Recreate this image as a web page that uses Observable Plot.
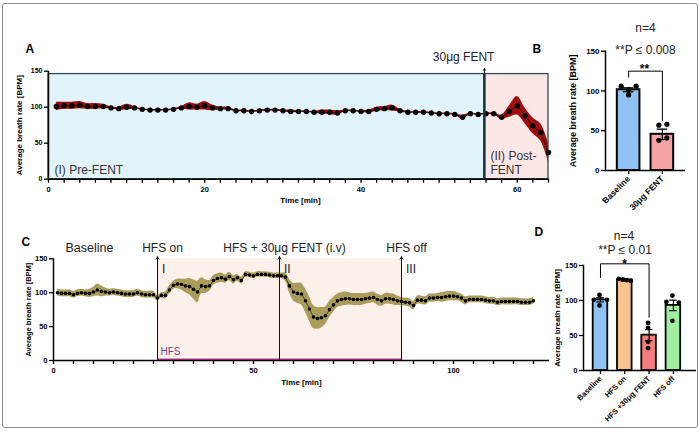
<!DOCTYPE html>
<html>
<head>
<meta charset="utf-8">
<script src="https://cdn.jsdelivr.net/npm/d3@7"></script>
<script src="https://cdn.jsdelivr.net/npm/@observablehq/plot@0.6"></script>
<style>
  html, body { margin: 0; padding: 0; background: #fff; }
  #fig { position: relative; width: 700px; height: 435px; overflow: hidden; background: #fff; }
  #fig svg { position: absolute; left: 0; top: 0; }
  #border { position: absolute; left: 2px; top: 3px; width: 694px; height: 423px; border: 1px solid #8c8c8c; border-radius: 3px; }
</style>
</head>
<body>
<div id="fig"><div id="border"></div></div>
<script>
// ---------- Panel A: breath rate before / after fentanyl ----------
const timeA = [1,2,3,4,5,6,7,8,9,10,11,12,13,14,15,16,17,18,19,20,21,22,23,24,25,26,27,28,29,30,
  31,32,33,34,35,36,37,38,39,40,41,42,43,44,45,46,47,48,49,50,51,52,53,54,55,56,57,58,59,60,61,62,63,64];
const rateA = [101,102,102,103,101,101,101,99,98,100, 99,97,96,96,96,97,99,101,100,102,
  99,98,98,95,95,94,95,96,96,95, 94,94,94,93,93,93,92,95,95,94,
  94,97,98,99,95,93,93,93,92,91, 91,90,86,91,90,91,91,86,94,102, 88,74,65,37];
const semA = [6,5,5,5,4,4,3,1.5,2,4, 2,1,1,1,1,1,2,5,4,6, 4,2,2,1,1,1,1,1,1,1,
  2,1,1,1,3,3,3,1,1,1, 2,3,3,4,2,1,1,1,1,1, 1,1,3,1,1,1,1,3,8,13, 11,11,12,13];
const phaseStartA = [0, 55.8];
const phaseEndA = [55.8, 64];
const phaseNameA = ["(I) Pre-FENT", "(II) Post-\nFENT"];
const phaseTopA = 146;
const doseTimeA = [55.8];
const doseLabelA = ["30μg FENT"];

// ---------- Panel B: baseline vs fentanyl ----------
const groupsB = ["Baseline", "30μg FENT"];
const meanB = [101.5, 45.5];
const semB = [2.5, 6.5];
const pointsB = [[106, 95, 106, 101], [57, 58, 38, 41]];
const statsB = ["n=4", "**P ≤ 0.008"];
const starsB = "**";

// ---------- Panel C: HFS time course ----------
const timeC = [1,2,3,4,5,6,7,8,9,10,11,12,13,14,15,16,17,18,19,20,21,22,23,24,25,26,27,28,29,30,
  31,32,33,34,35,36,37,38,39,40,41,42,43,44,45,46,47,48,49,50,51,52,53,54,55,56,57,58,59,60,
  61,62,63,64,65,66,67,68,69,70,71,72,73,74,75,76,77,78,79,80,81,82,83,84,85,86,87,88,89,90,
  91,92,93,94,95,96,97,98,99,100,101,102,103,104,105,106,107,108,109,110,111,112,113,114,115,116,117,118,119,120];
const rateC = [100,99,99,99,97,99,100,99,99,101, 104,102,101,100,101,100,99,98,98,98,
  100,98,97,97,97,92,96,96,104,111, 113,112,110,109,105,101,110,109,110,118,
  121,122,120,124,119,122,118,127,126,125, 127,127,127,126,125,125,125,123,110,101,
  99,98,88,76,64,62,63,66,75,82, 88,90,91,91,90,90,90,91,92,93,
  90,88,91,91,90,88,87,86,85,81, 89,89,88,92,92,93,93,94,95,95,
  94,92,88,90,90,90,90,89,88,88, 86,87,87,87,87,87,86,86,86,88];
const semC = [5,5,5,5,5,5,5,5,6,7, 9,8,6,5,5,5,5,5,5,5, 5,5,5,5,5,4,4,5,6,6,
  7,8,10,12,14,16,12,10,8,7, 7,7,6,6,6,5,5,4,4,4, 4,4,4,4,4,4,4,6,10,13,
  15,16,17,18,17,16,15,13,12,11, 10,10,10,9,9,9,9,8,8,8, 8,8,8,8,8,7,6,6,6,6,
  6,6,6,6,6,6,7,7,7,7, 6,6,6,5,5,5,5,5,5,5, 5,5,5,5,5,5,5,5,5,5];
const eventTimeC = [26, 56.5, 87];
const eventLabelC = ["HFS on", "HFS + 30μg FENT (i.v)", "HFS off"];
const eventPhaseC = ["I", "II", "III"];
const baselineLabelC = "Baseline";
const hfsStartC = 26, hfsEndC = 87;

// ---------- Panel D: phase means ----------
const groupsD = ["Baseline", "HFS on", "HFS +30μg FENT", "HFS off"];
const meanD = [101, 129.5, 50.5, 93];
const semD = [3, 1.5, 8, 7.5];
const pointsD = [[108, 101, 101, 93], [131, 130, 129, 128], [68, 61, 41, 32], [107, 98, 97, 71]];
const statsD = ["n=4", "**P ≤ 0.01"];
const starsD = "*";

// ---------- shared styling ----------
const W = 700, H = 435;
const FONT = "'Liberation Sans', Arial, Helvetica, sans-serif";
const svgStyle = {background: "transparent", overflow: "visible", fontFamily: FONT};
const fillsB = ["#90c2f4", "#f5a3a3"];
const fillsD = ["#90c2f4", "#f9c38d", "#f27d7d", "#a0f0a0"];
const ticks150 = [0, 50, 100, 150];
const fig = document.getElementById("fig");

// vertical axis title, centred on the frame's left edge and shifted left by `shift` px
const yTitle = (shift, size) => Plot.text(["Average breath rate [BPM]"],
  {frameAnchor: "left", dx: shift, rotate: -90, textAnchor: "middle", fontSize: size, fontWeight: "bold"});

// ===== Panel A =====
const seriesA = timeA.map((t, i) => ({t, v: rateA[i], se: semA[i]}));
const phasesA = phaseStartA.map((s, i) => ({x1: s, x2: phaseEndA[i], name: phaseNameA[i], fill: ["#e1f4fb", "#fde7e6"][i]}));
fig.append(Plot.plot({
  width: W, height: H,
  marginLeft: 48, marginRight: 152, marginTop: 70.7, marginBottom: 256.3,
  x: {domain: [0, 64]},
  y: {domain: [0, 150]},
  color: {type: "identity"},
  style: svgStyle,
  marks: [
    Plot.rect(phasesA, {x1: "x1", x2: "x2", y1: 0, y2: phaseTopA, fill: "fill", stroke: "#2c4a56", strokeWidth: 1.3}),
    Plot.text(phasesA, {x: "x1", y: 7, text: "name", dx: 6, textAnchor: "start", lineAnchor: "bottom", fontSize: 12, lineHeight: 1.2, fill: "#333"}),
    Plot.areaY(seriesA, {x: "t", y1: d => d.v - d.se, y2: d => d.v + d.se, fill: "#a10c0c", curve: "catmull-rom"}),
    Plot.line(seriesA, {x: "t", y: "v", stroke: "#111", strokeWidth: 0.8}),
    Plot.dot(seriesA, {x: "t", y: "v", r: 2.7, fill: "#000"}),
    Plot.ruleX(doseTimeA, {x: d => d, y1: 0, y2: phaseTopA, stroke: "#1b3440", strokeWidth: 2.4}),
    Plot.arrow(doseTimeA, {x1: d => d, x2: d => d, y1: phaseTopA, y2: 153.5, stroke: "#111", strokeWidth: 1, headLength: 4}),
    Plot.text(doseTimeA, {x: d => d, y: 169, text: (d, i) => doseLabelA[i], dx: 10, textAnchor: "end", fontSize: 12, fill: "#222"}),
    Plot.axisY({ticks: ticks150, tickSize: 4, tickPadding: 2, fontSize: 7, fontWeight: "bold", strokeWidth: 1.3, label: null}),
    Plot.axisX({ticks: d3.range(0, 65, 2), tickSize: 4, tickPadding: 3, tickFormat: d => d % 20 ? "" : d, fontSize: 7.5, fontWeight: "bold", strokeWidth: 1.3, label: null}),
    Plot.ruleY([0], {stroke: "#000", strokeWidth: 1.5}),
    Plot.ruleX([0], {y1: 0, y2: 150, stroke: "#000", strokeWidth: 1.5}),
    yTitle(-29, 8),
    Plot.text(["Time [min]"], {frameAnchor: "bottom", dy: 24, dx: 2, fontSize: 8, fontWeight: "bold"}),
    Plot.text(["A"], {frameAnchor: "top-left", dx: -23, dy: -26.7, fontSize: 12, fontWeight: "bold"})
  ]
}));

// ===== Panel B =====
const barsB = groupsB.map((g, i) => ({g, v: meanB[i], se: semB[i], fill: fillsB[i]}));
const jitterB = [[-7.5, 0, 7.5, 0], [-3.5, 4.5, -3.5, 4.5]];
const bracketB = [{g: groupsB[0], y: 117.4}, {g: groupsB[0], y: 124.9}, {g: groupsB[1], y: 124.9}, {g: groupsB[1], y: 62.9}];
fig.append(Plot.plot({
  width: W, height: H,
  marginLeft: 605, marginRight: 15, marginTop: 50.7, marginBottom: 265,
  x: {type: "band", domain: groupsB, paddingInner: 0.33, paddingOuter: 0.35, round: false},
  y: {domain: [0, 150]},
  color: {type: "identity"},
  style: svgStyle,
  marks: [
    Plot.barY(barsB, {x: "g", y: "v", fill: "fill", stroke: "#000", strokeWidth: 2}),
    Plot.ruleX(barsB, {x: "g", y1: d => d.v - d.se, y2: d => d.v + d.se, stroke: "#000", strokeWidth: 1.3}),
    Plot.tickY(barsB, {x: "g", y: d => d.v + d.se, stroke: "#000", strokeWidth: 1.3, insetLeft: 6, insetRight: 6}),
    Plot.tickY(barsB, {x: "g", y: d => d.v - d.se, stroke: "#000", strokeWidth: 1.3, insetLeft: 6, insetRight: 6}),
    ...pointsB.flatMap((vals, gi) => vals.map((v, j) =>
      Plot.dot([v], {x: () => groupsB[gi], y: d => d, r: 2.6, fill: "#000", dx: jitterB[gi][j]}))),
    Plot.line(bracketB, {x: "g", y: "y", stroke: "#000", strokeWidth: 1}),
    Plot.axisY({ticks: ticks150, tickSize: 4, tickPadding: 2, fontSize: 8, fontWeight: "bold", strokeWidth: 1.3, label: null}),
    Plot.axisX({tickSize: 4, tickPadding: 3, tickRotate: -45, fontSize: 8.5, fontWeight: "bold", strokeWidth: 1.3, label: null}),
    Plot.ruleY([0], {stroke: "#000", strokeWidth: 1.5}),
    Plot.frame({anchor: "left", stroke: "#000", strokeWidth: 1.5}),
    yTitle(-32, 9),
    Plot.text([statsB[0]], {frameAnchor: "top", dx: 0, dy: -27.7, fontSize: 12, fill: "#222"}),
    Plot.text([statsB[1]], {frameAnchor: "top", dx: 0, dy: -5.7, fontSize: 12, fill: "#222"}),
    Plot.text([starsB], {frameAnchor: "top", dx: -1, dy: 13, fontSize: 12, fontWeight: "bold"}),
    Plot.text(["B"], {frameAnchor: "top-left", dx: -73, dy: -6.7, fontSize: 12, fontWeight: "bold"})
  ]
}));

// ===== Panel C =====
const seriesC = timeC.map((t, i) => ({t, v: rateC[i], se: semC[i]}));
fig.append(Plot.plot({
  width: W, height: H,
  marginLeft: 53, marginRight: 151, marginTop: 258.3, marginBottom: 75,
  x: {domain: [0, 124]},
  y: {domain: [0, 150]},
  style: svgStyle,
  marks: [
    Plot.rect([0], {x1: hfsStartC, x2: hfsEndC, y1: 0, y2: 150, fill: "#fcf1ea"}),
    Plot.areaY(seriesC, {x: "t", y1: d => d.v - d.se, y2: d => d.v + d.se, fill: "#aa9c5b", curve: "catmull-rom"}),
    Plot.line(seriesC, {x: "t", y: "v", stroke: "#222", strokeWidth: 0.7}),
    Plot.dot(seriesC, {x: "t", y: "v", r: 1.8, fill: "#000"}),
    Plot.ruleY([1.2], {x1: hfsStartC, x2: hfsEndC, stroke: "#c2349c", strokeWidth: 2.5}),
    Plot.text(["HFS"], {x: hfsStartC, y: 13, dx: 3, textAnchor: "start", fontSize: 10, fill: "#7b3f88"}),
    Plot.arrow(eventTimeC, {x1: d => d, x2: d => d, y1: 0, y2: 153, stroke: "#111", strokeWidth: 1, headLength: 4}),
    Plot.text(eventTimeC, {x: d => d, y: 166, text: (d, i) => eventLabelC[i], dx: 5, fontSize: 12, fill: "#222"}),
    Plot.text(eventTimeC, {x: d => d, y: 135, text: (d, i) => eventPhaseC[i], dx: 4.5, textAnchor: "start", fontSize: 12, fill: "#222"}),
    Plot.text([baselineLabelC], {x: 0, y: 166, dx: 12, textAnchor: "start", fontSize: 12.5, fill: "#222"}),
    Plot.axisY({ticks: ticks150, tickSize: 4, tickPadding: 2, fontSize: 7.5, fontWeight: "bold", strokeWidth: 1.3, label: null}),
    Plot.axisX({ticks: d3.range(0, 121, 5), tickSize: 4, tickPadding: 3, tickFormat: d => d % 50 ? "" : d, fontSize: 7.5, fontWeight: "bold", strokeWidth: 1.3, label: null}),
    Plot.ruleY([0], {stroke: "#000", strokeWidth: 1.5}),
    Plot.ruleX([0], {y1: 0, y2: 150, stroke: "#000", strokeWidth: 1.5}),
    yTitle(-25, 7.5),
    Plot.text(["Time [min]"], {frameAnchor: "bottom", dy: 24, fontSize: 8, fontWeight: "bold"}),
    Plot.text(["C"], {frameAnchor: "top-left", dx: -32, dy: -21.3, fontSize: 12, fontWeight: "bold"})
  ]
}));

// ===== Panel D =====
const barsD = groupsD.map((g, i) => ({g, v: meanD[i], se: semD[i], fill: fillsD[i]}));
const jitterD = [[-1, -6.5, 6.5, -1], [-6, -2, 2, 6], [-1, -1, -1, -1], [-1, -7, 5.5, -1]];
const bracketD = [{g: groupsD[0], y: 133}, {g: groupsD[0], y: 152.4}, {g: groupsD[2], y: 152.4}, {g: groupsD[2], y: 76}];
fig.append(Plot.plot({
  width: W, height: H,
  marginLeft: 583, marginRight: 4, marginTop: 265, marginBottom: 65,
  x: {type: "band", domain: groupsD, paddingInner: 0.4, paddingOuter: 0.525, align: 0.38, round: false},
  y: {domain: [0, 150]},
  color: {type: "identity"},
  style: svgStyle,
  marks: [
    Plot.barY(barsD, {x: "g", y: "v", fill: "fill", stroke: "#000", strokeWidth: 1.8}),
    Plot.ruleX(barsD, {x: "g", y1: d => d.v - d.se, y2: d => d.v + d.se, stroke: "#000", strokeWidth: 1.2}),
    Plot.tickY(barsD, {x: "g", y: d => d.v + d.se, stroke: "#000", strokeWidth: 1.2, insetLeft: 3.5, insetRight: 3.5}),
    Plot.tickY(barsD, {x: "g", y: d => d.v - d.se, stroke: "#000", strokeWidth: 1.2, insetLeft: 3.5, insetRight: 3.5}),
    ...pointsD.flatMap((vals, gi) => vals.map((v, j) =>
      Plot.dot([v], {x: () => groupsD[gi], y: d => d, r: 2.4, fill: "#000", dx: jitterD[gi][j]}))),
    Plot.line(bracketD, {x: "g", y: "y", stroke: "#000", strokeWidth: 1}),
    Plot.axisY({ticks: ticks150, tickSize: 4, tickPadding: 2, fontSize: 7.5, fontWeight: "bold", strokeWidth: 1.3, label: null}),
    Plot.axisX({tickSize: 4, tickPadding: 3, tickRotate: -45, fontSize: 7.5, fontWeight: "bold", strokeWidth: 1.3, label: null}),
    Plot.ruleY([0], {stroke: "#000", strokeWidth: 1.5}),
    Plot.frame({anchor: "left", stroke: "#000", strokeWidth: 1.5}),
    yTitle(-26, 7.8),
    Plot.text([statsD[0]], {frameAnchor: "top", dx: -16, dy: -34, fontSize: 12, fill: "#222"}),
    Plot.text([statsD[1]], {frameAnchor: "top", dx: -15, dy: -20, fontSize: 12, fill: "#222"}),
    Plot.text([starsD], {frameAnchor: "top", dx: -15.5, dy: -6, fontSize: 12, fontWeight: "bold"}),
    Plot.text(["D"], {frameAnchor: "top-left", dx: -49, dy: -38, fontSize: 12, fontWeight: "bold"})
  ]
}));
</script>
</body>
</html>
